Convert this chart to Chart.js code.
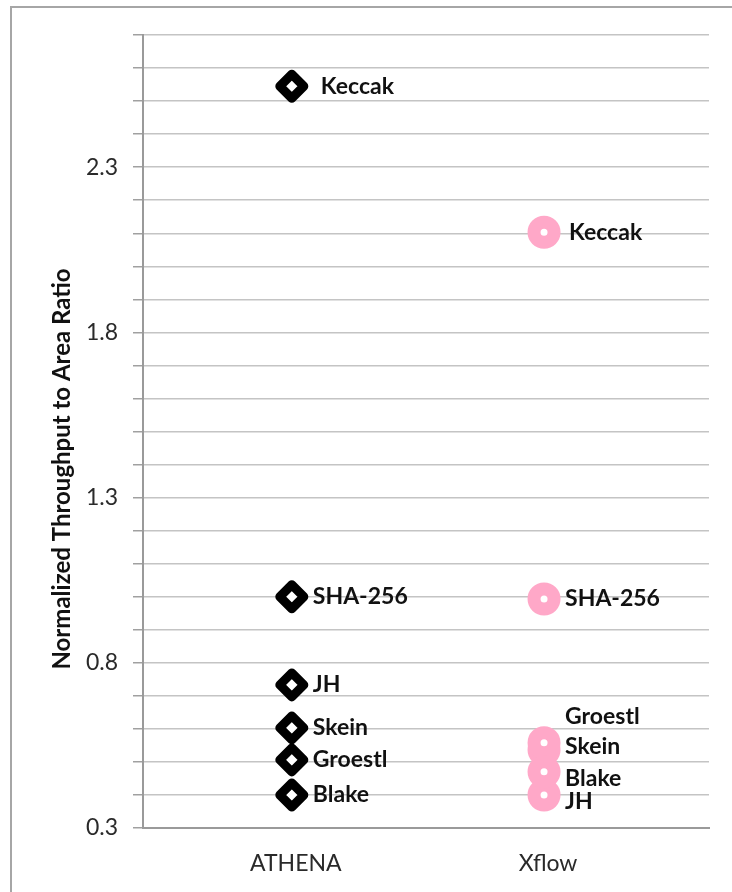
<!DOCTYPE html>
<html>
<head>
<meta charset="utf-8">
<script src="https://cdn.jsdelivr.net/npm/chart.js@4.4.1/dist/chart.umd.min.js"></script>
<style>
  html, body { margin: 0; padding: 0; background: #ffffff; }
  canvas { display: block; }
</style>
</head>
<body>
<canvas id="chart" width="732" height="892"></canvas>
<script>
// Tools compared, one column each
const categories = ['ATHENA', 'Xflow'];
// Hash algorithms, same order in both value lists
const algorithms = ['Keccak', 'SHA-256', 'JH', 'Skein', 'Groestl', 'Blake'];
const athenaValues = [2.545, 1.0, 0.733, 0.603, 0.506, 0.40];
const xflowValues = [2.103, 0.993, 0.40, 0.536, 0.558, 0.47];
// Labelled y ticks (minor gridlines every 0.1 in between)
const yTickLabels = [0.3, 0.8, 1.3, 1.8, 2.3];
const yTitle = 'Normalized Throughput to Area Ratio';

// Hand nudges for labels that would otherwise collide (pixels)
const labelNudge = {
  ATHENA: { Keccak: { dx: 8, dy: 0 } },
  Xflow: {
    Keccak: { dx: 4, dy: 0 },
    Groestl: { dx: 0, dy: -26 },
    Skein: { dx: 0, dy: -3 },
    Blake: { dx: 0, dy: 7 },
    JH: { dx: 0, dy: 7 }
  }
};

const FONT = 'Lato, "Open Sans", sans-serif';

function seriesPoints(catIndex, values) {
  return values.map(v => ({ x: catIndex + 1, y: v }));
}

const pointLabels = {
  id: 'pointLabels',
  beforeDatasetsDraw(chart) {
    // softer corners on the thick marker outlines
    chart.ctx.lineJoin = 'round';
  },
  afterDatasetsDraw(chart) {
    const ctx = chart.ctx;
    ctx.save();
    ctx.font = 'bold 23px ' + FONT;
    ctx.fillStyle = '#111111';
    ctx.textAlign = 'left';
    ctx.textBaseline = 'middle';
    chart.data.datasets.forEach((ds, di) => {
      const meta = chart.getDatasetMeta(di);
      const nudges = labelNudge[ds.label] || {};
      meta.data.forEach((el, i) => {
        const name = algorithms[i];
        const n = nudges[name] || { dx: 0, dy: 0 };
        ctx.fillText(name, el.x + 21 + n.dx, el.y + n.dy);
      });
    });
    ctx.restore();
  }
};

const frameAndTitle = {
  id: 'frameAndTitle',
  beforeDraw(chart) {
    const ctx = chart.ctx;
    ctx.save();
    ctx.fillStyle = '#ffffff';
    ctx.fillRect(0, 0, chart.width, chart.height);
    ctx.strokeStyle = '#a6a6a6';
    ctx.lineWidth = 2;
    ctx.strokeRect(11, 7, chart.width + 20, chart.height + 20);
    ctx.restore();
  },
  afterDraw(chart) {
    const ctx = chart.ctx;
    ctx.save();
    ctx.translate(62, 469);
    ctx.rotate(-Math.PI / 2);
    ctx.font = 'bold 24px ' + FONT;
    ctx.fillStyle = '#111111';
    ctx.textAlign = 'center';
    ctx.textBaseline = 'middle';
    ctx.fillText(yTitle, 0, 0);
    ctx.restore();
  }
};

new Chart(document.getElementById('chart'), {
  type: 'scatter',
  data: {
    datasets: [
      {
        label: categories[0],
        data: seriesPoints(0, athenaValues),
        pointStyle: 'rectRot',
        pointRadius: 12,
        borderWidth: 9,
        borderColor: '#000000',
        backgroundColor: '#ffffff'
      },
      {
        label: categories[1],
        data: seriesPoints(1, xflowValues),
        pointStyle: 'circle',
        pointRadius: 10,
        borderWidth: 13,
        borderColor: '#ffa8c8',
        backgroundColor: '#ffffff'
      }
    ]
  },
  options: {
    responsive: false,
    animation: false,
    events: [],
    layout: { padding: { top: 35, right: 19, bottom: 0, left: 0 } },
    plugins: {
      legend: { display: false },
      tooltip: { enabled: false }
    },
    scales: {
      x: {
        type: 'linear',
        min: 0.41,
        max: 2.654,
        afterBuildTicks(scale) {
          scale.ticks = categories.map((c, i) => ({ value: i + 1 }));
        },
        afterFit(scale) { scale.height = 64; },
        grid: { display: false, drawTicks: false },
        border: { display: true, color: '#9a9a9a', width: 2 },
        ticks: {
          padding: 22,
          labelOffset: 4,
          color: '#2a2a2a',
          font: { family: FONT, size: 23 },
          callback(v) { return categories[Math.round(v) - 1] || ''; }
        }
      },
      y: {
        min: 0.3,
        max: 2.7,
        afterBuildTicks(scale) {
          const t = [];
          for (let k = 3; k <= 27; k++) t.push({ value: k / 10 });
          scale.ticks = t;
        },
        afterFit(scale) { scale.width = 143; },
        grid: {
          color: '#c4c4c4',
          lineWidth: 1.5,
          drawTicks: true,
          tickLength: 10,
          tickColor: '#a0a0a0'
        },
        border: { display: true, color: '#9a9a9a', width: 2 },
        ticks: {
          padding: 15,
          color: '#2a2a2a',
          font: { family: FONT, size: 23 },
          callback(v) {
            const hit = yTickLabels.find(t => Math.abs(t - v) < 1e-6);
            return hit !== undefined ? hit.toFixed(1) : '';
          }
        }
      }
    }
  },
  plugins: [frameAndTitle, pointLabels]
});
</script>
</body>
</html>
